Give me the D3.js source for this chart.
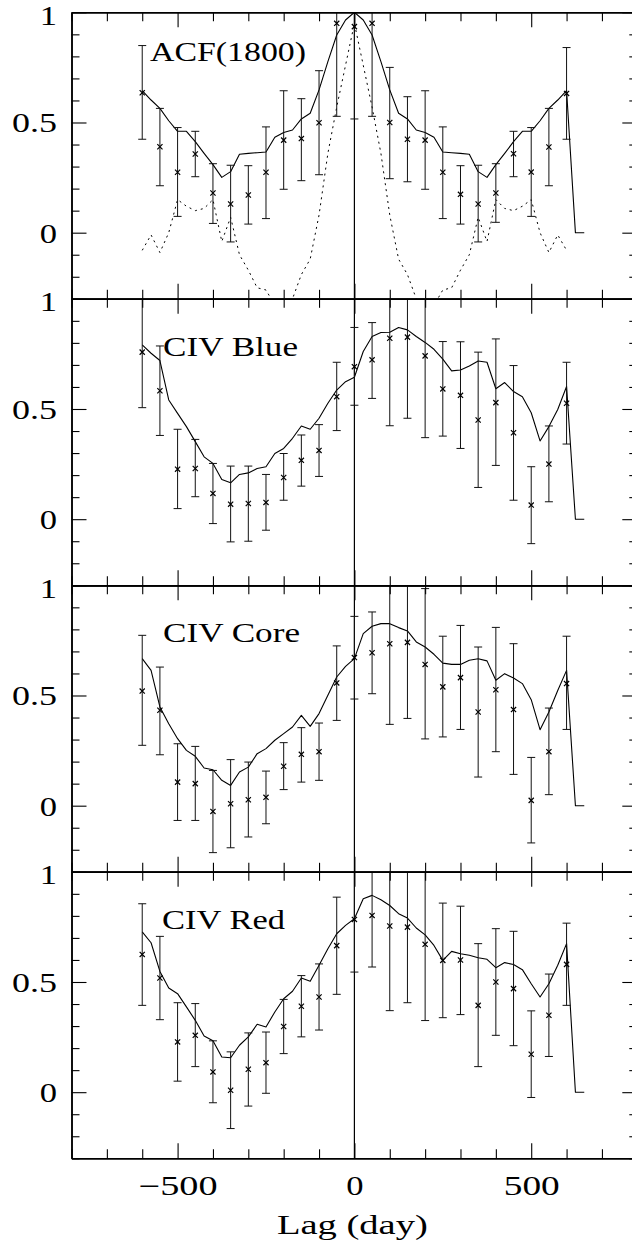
<!DOCTYPE html>
<html><head><meta charset="utf-8">
<script src="https://cdn.jsdelivr.net/npm/d3@7/dist/d3.min.js"></script>
<style>body{margin:0;background:#fff;overflow:hidden} svg{display:block}</style>
</head><body>
<svg id="chart" width="632" height="1245"></svg>
<script>
// ---------------- data ----------------
const panelNames = ["ACF(1800)", "CIV Blue", "CIV Core", "CIV Red"];
const xTickLabels = ["\u2212500", "0", "500"];
const xTickValues = [-500, 0, 500];
const yTickValues = [0, 0.5, 1];
const yTickLabels = ["0", "0.5", "1"];
const xTitle = "Lag (day)";

const pointLags = [-600,-550,-500,-450,-400,-350,-300,-250,-200,-150,-100,-50,0,50,100,150,200,250,300,350,400,450,500,550,600];
const lineLags = [-600,-575,-550,-525,-500,-475,-450,-425,-400,-375,-350,-325,-300,-275,-250,-225,-200,-175,-150,-125,-100,-75,-50,-25,0,25,50,75,100,125,150,175,200,225,250,275,300,325,350,375,400,425,450,475,500,525,550,575,600,625,650];
const dottedLags = [-600,-575,-550,-525,-500,-475,-450,-425,-400,-375,-350,-325,-300,-275,-250,-225,-200,-175,-150,-125,-100,-75,-50,-25,0,25,50,75,100,125,150,175,200,225,250,275,300,325,350,375,400,425,450,475,500,525,550,575,600];

// ACF(1800)
const acfLine = [0.645,0.602,0.564,0.508,0.46,0.46,0.413,0.36,0.309,0.251,0.277,0.356,0.36,0.363,0.366,0.433,0.455,0.466,0.516,0.542,0.648,0.776,0.897,0.965,1.0,0.965,0.897,0.776,0.648,0.542,0.516,0.466,0.455,0.433,0.366,0.363,0.36,0.356,0.277,0.251,0.309,0.36,0.413,0.46,0.46,0.508,0.564,0.602,0.645,0,0];
const acfDotted = [-0.08,-0.01,-0.09,0.0,0.15,0.12,0.10,0.11,0.15,-0.04,0.07,-0.10,-0.17,-0.25,-0.26,-0.33,-0.45,-0.30,-0.19,-0.12,0.08,0.36,0.57,0.76,0.95,0.76,0.57,0.36,0.08,-0.12,-0.19,-0.30,-0.45,-0.33,-0.26,-0.25,-0.17,-0.10,0.07,-0.04,0.15,0.11,0.10,0.12,0.15,0.0,-0.09,-0.01,-0.08];
const acfPts = [0.635,0.39,0.274,0.357,0.18,0.13,0.171,0.274,0.42,0.427,0.499,0.95,0.935,0.95,0.5,0.424,0.42,0.274,0.174,0.13,0.18,0.358,0.275,0.389,0.632];
const acfLo  = [0.424,0.213,0.074,0.254,0.042,-0.042,0.039,0.064,0.197,0.236,0.263,0.528,0.516,0.528,0.245,0.231,0.197,0.064,0.039,-0.042,0.047,0.254,0.074,0.213,0.424];
const acfHi  = [0.849,0.564,0.477,0.46,0.313,0.306,0.304,0.48,0.644,0.608,0.735,1.2,1.2,1.2,0.75,0.617,0.644,0.48,0.304,0.306,0.313,0.46,0.477,0.564,0.84];

// CIV Blue
const blueLine = [0.791,0.753,0.72,0.541,0.48,0.42,0.352,0.283,0.253,0.18,0.165,0.203,0.21,0.23,0.238,0.298,0.321,0.367,0.423,0.408,0.458,0.526,0.586,0.624,0.644,0.761,0.829,0.847,0.848,0.87,0.859,0.829,0.802,0.771,0.726,0.673,0.677,0.695,0.718,0.712,0.592,0.62,0.579,0.556,0.483,0.355,0.42,0.498,0.602,0,0];
const bluePts = [0.758,0.583,0.227,0.23,0.117,0.068,0.071,0.076,0.189,0.267,0.312,0.556,0.692,0.723,0.821,0.826,0.741,0.591,0.562,0.45,0.529,0.392,0.064,0.25,0.526];
const blueLo  = [0.506,0.38,0.048,0.102,-0.02,-0.103,-0.1,-0.05,0.086,0.15,0.194,0.402,0.517,0.548,0.424,0.458,0.37,0.377,0.321,0.144,0.244,0.086,-0.111,0.079,0.341];
const blueHi  = [1.1,0.786,0.408,0.362,0.253,0.241,0.241,0.203,0.298,0.382,0.429,0.712,0.87,0.892,1.1,1.1,1.1,0.806,0.805,0.758,0.818,0.697,0.238,0.423,0.712];

// CIV Core
const coreLine = [0.667,0.614,0.448,0.372,0.304,0.251,0.224,0.171,0.163,0.115,0.092,0.153,0.175,0.236,0.259,0.297,0.327,0.357,0.41,0.36,0.418,0.501,0.584,0.632,0.667,0.781,0.814,0.826,0.826,0.808,0.793,0.743,0.72,0.687,0.647,0.641,0.641,0.66,0.667,0.657,0.569,0.599,0.579,0.554,0.481,0.345,0.425,0.523,0.614,0,0];
const corePts = [0.52,0.433,0.107,0.1,-0.026,0.009,0.027,0.038,0.179,0.233,0.245,0.557,0.672,0.694,0.735,0.741,0.641,0.539,0.581,0.425,0.526,0.436,0.024,0.245,0.554];
const coreLo  = [0.274,0.231,-0.067,-0.067,-0.213,-0.191,-0.142,-0.082,0.073,0.107,0.115,0.387,0.484,0.508,0.369,0.396,0.303,0.312,0.346,0.13,0.245,0.142,-0.169,0.05,0.346];
const coreHi  = [0.773,0.629,0.281,0.269,0.16,0.209,0.198,0.157,0.286,0.354,0.375,0.725,0.859,0.879,1.1,1.1,0.985,0.769,0.818,0.72,0.809,0.735,0.219,0.443,0.769];

// CIV Red
const redLine = [0.727,0.678,0.548,0.473,0.447,0.387,0.326,0.255,0.233,0.16,0.156,0.213,0.251,0.308,0.296,0.364,0.424,0.458,0.518,0.503,0.576,0.651,0.719,0.757,0.787,0.878,0.893,0.873,0.847,0.81,0.79,0.745,0.714,0.666,0.598,0.639,0.628,0.621,0.61,0.603,0.565,0.588,0.579,0.556,0.492,0.432,0.492,0.576,0.674,0,0];
const redPts = [0.625,0.518,0.228,0.258,0.092,0.009,0.104,0.134,0.298,0.39,0.432,0.665,0.784,0.802,0.754,0.749,0.671,0.598,0.6,0.394,0.5,0.47,0.172,0.349,0.58];
const redLo  = [0.394,0.329,0.05,0.116,-0.048,-0.165,-0.063,-0.005,0.175,0.251,0.282,0.444,0.545,0.568,0.37,0.406,0.325,0.338,0.352,0.116,0.258,0.211,-0.024,0.162,0.394];
const redHi  = [0.855,0.707,0.406,0.402,0.233,0.183,0.269,0.273,0.421,0.529,0.582,0.885,1.1,1.1,1.1,1.1,1.1,0.858,0.844,0.674,0.742,0.73,0.369,0.536,0.767];

// ---------------- layout ----------------
const X0 = 71.5, X1 = 637.3, TOP = 12.3, PH = 286.5;
const FONT = "'Liberation Serif', 'Times New Roman', serif", FS = 27, STRETCH = 1.28;
const MAJ = 15, MIN_X = 9, MIN_Y = 8;
const textWidths = {"ACF(1800)": 156, "CIV Blue": 135, "CIV Core": 137, "CIV Red": 123,
                    "Lag (day)": 151, "\u2212500": 79, "500": 56, "0.5": 45};

const panels = [
  {name: panelNames[0], line: acfLine, dotted: acfDotted, pts: acfPts, lo: acfLo, hi: acfHi, labX: 150, labV: 0.779},
  {name: panelNames[1], line: blueLine, dotted: null, pts: bluePts, lo: blueLo, hi: blueHi, labX: 163, labV: 0.742},
  {name: panelNames[2], line: coreLine, dotted: null, pts: corePts, lo: coreLo, hi: coreHi, labX: 163, labV: 0.743},
  {name: panelNames[3], line: redLine, dotted: null, pts: redPts, lo: redLo, hi: redHi, labX: 162, labV: 0.742}
];

const svg = d3.select("#chart");
const x = d3.scaleLinear().domain([-800, 800]).range([X0, X1]);

const xMinor = d3.range(-800, 801, 100).filter(v => v % 500 !== 0);
const xMajor = [-500, 0, 500];
const yMinor = d3.range(-3, 11).map(v => v / 10).filter(v => ![0, 0.5, 1].includes(v));
const yMajor = [0, 0.5, 1];

function stretchText(sel) {
  sel.each(function() {
    const t = d3.select(this).text();
    const len = textWidths[t] !== undefined ? textWidths[t] : this.getComputedTextLength() * STRETCH;
    d3.select(this).attr("textLength", len).attr("lengthAdjust", "spacingAndGlyphs");
  });
}
function styleAxis(g) {
  g.select(".domain").attr("stroke", "#000").attr("stroke-width", 1.5);
  g.selectAll(".tick line").attr("stroke", "#000").attr("stroke-width", 1.1);
  g.selectAll(".tick text").attr("font-family", FONT).attr("font-size", FS).attr("fill", "#000");
}

const defs = svg.append("defs");

panels.forEach((p, i) => {
  const top = TOP + i * PH;
  const y = d3.scaleLinear().domain([-0.3, 1]).range([top + PH, top]);
  const isLast = i === panels.length - 1;

  defs.append("clipPath").attr("id", "clip" + i)
    .append("rect").attr("x", X0).attr("y", top).attr("width", X1 - X0).attr("height", PH);

  const gd = svg.append("g").attr("clip-path", `url(#clip${i})`);

  // vertical line at zero lag
  gd.append("line").attr("x1", x(0)).attr("x2", x(0)).attr("y1", y(1)).attr("y2", y(-0.3))
    .attr("stroke", "#000").attr("stroke-width", 1.2);

  // dotted line
  if (p.dotted) {
    gd.append("path").datum(dottedLags.map((l, k) => [l, p.dotted[k]]))
      .attr("fill", "none").attr("stroke", "#000").attr("stroke-width", 1)
      .attr("stroke-dasharray", "2,4")
      .attr("d", d3.line().x(d => x(d[0])).y(d => y(d[1])));
  }

  // solid line
  gd.append("path").datum(lineLags.map((l, k) => [l, p.line[k]]))
    .attr("fill", "none").attr("stroke", "#000").attr("stroke-width", 1.1)
    .attr("stroke-linejoin", "round")
    .attr("d", d3.line().x(d => x(d[0])).y(d => y(d[1])));

  // error bars
  const eb = gd.append("g").attr("stroke", "#111").attr("stroke-width", 1);
  pointLags.forEach((l, k) => {
    const cx = x(l);
    eb.append("line").attr("x1", cx).attr("x2", cx).attr("y1", y(p.lo[k])).attr("y2", y(p.hi[k]));
    eb.append("line").attr("x1", cx - 4).attr("x2", cx + 4).attr("y1", y(p.lo[k])).attr("y2", y(p.lo[k]));
    eb.append("line").attr("x1", cx - 4).attr("x2", cx + 4).attr("y1", y(p.hi[k])).attr("y2", y(p.hi[k]));
    const cy = y(p.pts[k]);
    eb.append("path").attr("d", `M${cx-2.6},${cy-2.6}L${cx+2.6},${cy+2.6}M${cx-2.6},${cy+2.6}L${cx+2.6},${cy-2.6}`)
      .attr("stroke", "#000").attr("stroke-width", 1.2);
  });

  // axes: left
  const left = svg.append("g").attr("transform", `translate(${X0},0)`)
    .call(d3.axisLeft(y).tickValues(yMajor).tickSizeInner(-MAJ).tickSizeOuter(0).tickPadding(14.5)
      .tickFormat((d) => yTickLabels[yTickValues.indexOf(d)]));
  styleAxis(left);
  left.selectAll(".tick text").attr("dy", null)
    .attr("y", d => d === 1 ? 12 : 9.5).call(stretchText);
  svg.append("g").attr("transform", `translate(${X0},0)`)
    .call(d3.axisLeft(y).tickValues(yMinor).tickSizeInner(-MIN_Y).tickSizeOuter(0).tickFormat(""))
    .call(styleAxis);
  // right
  svg.append("g").attr("transform", `translate(${X1},0)`)
    .call(d3.axisRight(y).tickValues(yMajor).tickSizeInner(-MAJ).tickSizeOuter(0).tickFormat(""))
    .call(styleAxis);
  svg.append("g").attr("transform", `translate(${X1},0)`)
    .call(d3.axisRight(y).tickValues(yMinor).tickSizeInner(-MIN_Y).tickSizeOuter(0).tickFormat(""))
    .call(styleAxis);
  // top
  svg.append("g").attr("transform", `translate(0,${top})`)
    .call(d3.axisTop(x).tickValues(xMajor).tickSizeInner(-MAJ).tickSizeOuter(0).tickFormat(""))
    .call(styleAxis);
  svg.append("g").attr("transform", `translate(0,${top})`)
    .call(d3.axisTop(x).tickValues(xMinor).tickSizeInner(-MIN_X).tickSizeOuter(0).tickFormat(""))
    .call(styleAxis);
  // bottom
  const bot = svg.append("g").attr("transform", `translate(0,${top + PH})`)
    .call(d3.axisBottom(x).tickValues(xMajor).tickSizeInner(-MAJ).tickSizeOuter(0).tickPadding(18.2)
      .tickFormat(d => isLast ? xTickLabels[xTickValues.indexOf(d)] : ""));
  styleAxis(bot);
  if (isLast) bot.selectAll(".tick text").attr("dy", null).attr("y", 36.7).call(stretchText);
  svg.append("g").attr("transform", `translate(0,${top + PH})`)
    .call(d3.axisBottom(x).tickValues(xMinor).tickSizeInner(-MIN_X).tickSizeOuter(0).tickFormat(""))
    .call(styleAxis);

  // panel label
  svg.append("text").attr("x", p.labX).attr("y", y(p.labV))
    .attr("font-family", FONT).attr("font-size", FS).attr("fill", "#000")
    .style("white-space", "pre").text(p.name)
    .call(stretchText);
});

// x-axis title
svg.append("text").attr("x", x(0) - 2).attr("y", 1234).attr("text-anchor", "middle")
  .attr("font-family", FONT).attr("font-size", FS).attr("fill", "#000")
  .text(xTitle).call(stretchText);
</script>
</body></html>
